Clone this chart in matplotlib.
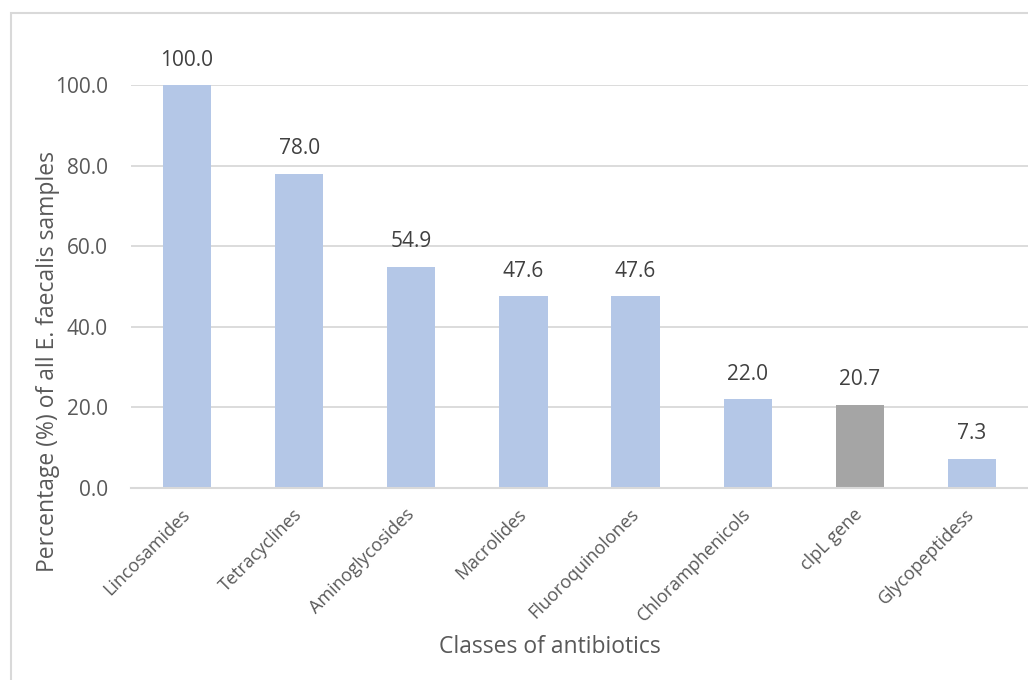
import matplotlib
matplotlib.use("Agg")
import matplotlib.pyplot as plt
from matplotlib.patches import Rectangle

plt.rcParams['font.family'] = ['Open Sans', 'DejaVu Sans']

classes = ['Lincosamides', 'Tetracyclines', 'Aminoglycosides', 'Macrolides',
           'Fluoroquinolones', 'Chloramphenicols', 'clpL gene', 'Glycopeptidess']
percent = [100.0, 78.0, 54.9, 47.6, 47.6, 22.0, 20.7, 7.3]
bar_colors = ['#B4C7E7'] * 6 + ['#A5A5A5'] + ['#B4C7E7']
yticks = [0, 20, 40, 60, 80, 100]

fig = plt.figure(figsize=(10.28, 6.8), dpi=100)
ax = fig.add_axes([131/1028, 1 - 488/680, 1 - 131/1028, (488 - 85)/680])

x = range(len(classes))
bars = ax.bar(x, percent, width=0.43, color=bar_colors, zorder=3)

for b, v in zip(bars, percent):
    ax.annotate('%.1f' % v, (b.get_x() + b.get_width()/2, v),
                xytext=(0, 14), textcoords='offset points',
                ha='center', va='baseline', fontsize=15, color='#404040',
                annotation_clip=False)

ax.set_xlim(-0.5, len(classes) - 0.5)
ax.set_ylim(0, 100)
ax.set_yticks(yticks)
ax.set_yticklabels(['%.1f' % t for t in yticks])
ax.yaxis.grid(True, color='#D9D9D9', linewidth=1.3, zorder=0)
ax.set_xticks(list(x))
ax.set_xticklabels(classes, rotation=45, ha='right', va='center',
                   rotation_mode='anchor', fontsize=13, color='#595959')
ax.tick_params(axis='y', length=0, pad=16.5, labelsize=15, labelcolor='#595959')
ax.tick_params(axis='x', length=0, pad=17)

for side in ['left', 'right', 'top']:
    ax.spines[side].set_visible(False)
ax.spines['bottom'].set_color('#D9D9D9')
ax.spines['bottom'].set_linewidth(1.5)
ax.spines['bottom'].set_zorder(4)

fig.text(48/1028, 1 - 362/680, 'Percentage (%) of all E. faecalis samples',
         rotation=90, ha='center', va='center', fontsize=16.5, color='#595959')
fig.text(550/1028, 1 - 647/680, 'Classes of antibiotics',
         ha='center', va='center', fontsize=16.5, color='#595959')

# chart frame
fig.patches.append(Rectangle((11/1028, -0.05), 1.2, 1.05 - 13/680,
                             transform=fig.transFigure, fill=False,
                             edgecolor='#D9D9D9', linewidth=1.5))

fig.savefig('out.png', dpi=100)
